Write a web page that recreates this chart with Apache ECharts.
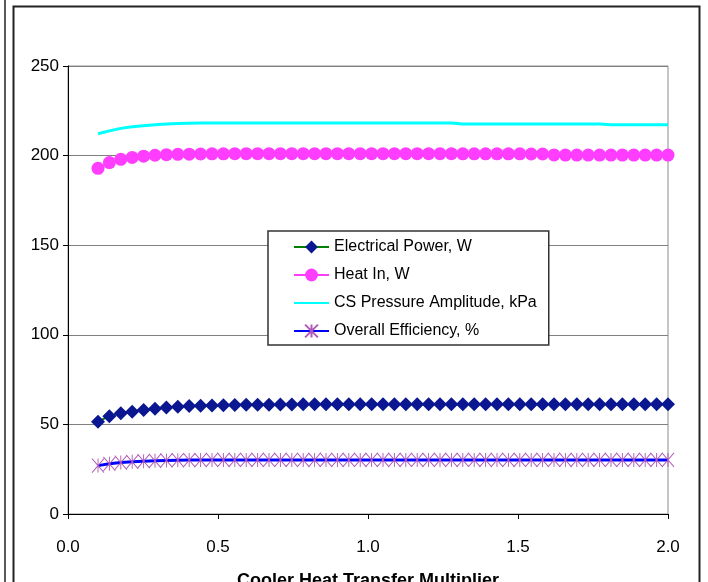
<!DOCTYPE html>
<html>
<head>
<meta charset="utf-8">
<script src="https://cdn.jsdelivr.net/npm/echarts@6/dist/echarts.min.js"></script>
<style>
  html, body { margin: 0; padding: 0; background: #fff; }
  #chart { width: 708px; height: 582px; }
</style>
</head>
<body>
<div id="chart"></div>
<script>
// cooler heat transfer multiplier (x)
const multiplier = [
  0.100, 0.138, 0.176, 0.214, 0.252, 0.290, 0.328, 0.366, 0.404, 0.442,
  0.480, 0.518, 0.556, 0.594, 0.632, 0.670, 0.708, 0.746, 0.784, 0.822,
  0.860, 0.898, 0.936, 0.974, 1.012, 1.050, 1.088, 1.126, 1.164, 1.202,
  1.240, 1.278, 1.316, 1.354, 1.392, 1.430, 1.468, 1.506, 1.544, 1.582,
  1.620, 1.658, 1.696, 1.734, 1.772, 1.810, 1.848, 1.886, 1.924, 1.962, 2.000
];

const electricalPower = [
  51.5, 54.6, 56.2, 57.1, 58.0, 58.8, 59.4, 59.8, 60.2, 60.4,
  60.6, 60.7, 60.8, 60.9, 61.0, 61.0, 61.1, 61.1, 61.2, 61.2,
  61.2, 61.3, 61.3, 61.3, 61.3, 61.3, 61.3, 61.3, 61.3, 61.3,
  61.3, 61.3, 61.3, 61.3, 61.3, 61.3, 61.3, 61.3, 61.3, 61.3,
  61.3, 61.3, 61.3, 61.3, 61.3, 61.3, 61.3, 61.3, 61.3, 61.3, 61.3
];

const heatIn = [
  192.9, 196.1, 197.9, 199.0, 199.7, 200.2, 200.5, 200.7, 200.8, 200.9,
  201.0, 201.0, 201.1, 201.1, 201.1, 201.1, 201.1, 201.1, 201.1, 201.1,
  201.1, 201.1, 201.1, 201.1, 201.1, 201.1, 201.1, 201.1, 201.1, 201.1,
  201.1, 201.1, 201.0, 201.0, 201.0, 201.0, 201.0, 201.0, 200.9, 200.9,
  200.4, 200.3, 200.3, 200.3, 200.3, 200.3, 200.3, 200.3, 200.3, 200.3, 200.3
];

const csPressure = [
  212.2, 213.8, 215.2, 216.1, 216.7, 217.2, 217.6, 217.9, 218.1, 218.2,
  218.2, 218.2, 218.2, 218.2, 218.2, 218.2, 218.2, 218.2, 218.2, 218.2,
  218.2, 218.2, 218.2, 218.2, 218.2, 218.2, 218.2, 218.2, 218.2, 218.2,
  218.2, 218.2, 217.7, 217.7, 217.7, 217.7, 217.7, 217.7, 217.7, 217.7,
  217.7, 217.7, 217.7, 217.7, 217.7, 217.2, 217.2, 217.2, 217.2, 217.2, 217.2
];

const overallEfficiency = [
  27.0, 28.0, 28.7, 29.1, 29.5, 29.7, 29.9, 30.0, 30.1, 30.1,
  30.2, 30.2, 30.2, 30.2, 30.2, 30.2, 30.2, 30.2, 30.2, 30.2,
  30.2, 30.2, 30.2, 30.2, 30.2, 30.2, 30.2, 30.2, 30.2, 30.2,
  30.2, 30.2, 30.2, 30.2, 30.2, 30.2, 30.2, 30.2, 30.2, 30.2,
  30.2, 30.2, 30.2, 30.2, 30.2, 30.2, 30.2, 30.2, 30.2, 30.2, 30.2
];

const xTicks = [0, 0.5, 1.0, 1.5, 2.0];
const yTicks = [0, 50, 100, 150, 200, 250];

const FONT = '"Liberation Sans", Arial, sans-serif';
const ASTERISK = 'path://M0,0L10,12M0,12L10,0M5,0L5,12';
// plain line sample for the legend
const LINE_ICON = 'path://M0,6.5L35,6.5L35,8.5L0,8.5Z';

const pair = (ys) => multiplier.map((x, i) => [x, ys[i]]);

const chart = echarts.init(document.getElementById('chart'));

chart.setOption({
  animation: false,
  backgroundColor: '#fff',
  textStyle: { fontFamily: FONT },
  grid: {
    left: 68, right: 40, top: 66, bottom: 68,
    outerBoundsMode: 'none',
    containLabel: false,
    show: true, borderColor: '#8c8c8c', borderWidth: 1
  },
  xAxis: {
    type: 'value',
    min: xTicks[0],
    max: xTicks[xTicks.length - 1],
    interval: 0.5,
    name: 'Cooler Heat Transfer Multiplier',
    nameLocation: 'middle',
    nameGap: 58,
    nameTextStyle: { color: '#000', fontSize: 18, fontWeight: 'bold', fontFamily: FONT },
    axisLine: { lineStyle: { color: '#000', width: 1 } },
    axisTick: { show: true, length: 5, lineStyle: { color: '#000' } },
    axisLabel: { color: '#000', fontSize: 17, margin: 25, formatter: (v) => v.toFixed(1) },
    splitLine: { show: false }
  },
  yAxis: {
    type: 'value',
    min: yTicks[0],
    max: yTicks[yTicks.length - 1],
    interval: 50,
    axisLine: { show: true, lineStyle: { color: '#000', width: 1 } },
    axisTick: { show: true, length: 5, lineStyle: { color: '#000' } },
    axisLabel: { color: '#000', fontSize: 17, margin: 9 },
    splitLine: { show: true, lineStyle: { color: '#808080', width: 1 } }
  },
  legend: {
    orient: 'vertical',
    left: 268,
    top: 231,
    padding: [8, 12, 6, 25],
    itemWidth: 35,
    itemHeight: 16,
    itemGap: 12,
    borderColor: '#333',
    borderWidth: 1.5,
    backgroundColor: '#fff',
    textStyle: { color: '#000', fontSize: 16, fontFamily: FONT },
    data: [
      'Electrical Power, W',
      'Heat In, W',
      { name: 'CS Pressure Amplitude, kPa', icon: LINE_ICON, itemStyle: { color: '#00ffff' } },
      'Overall Efficiency, %'
    ]
  },
  series: [
    {
      name: 'Electrical Power, W',
      type: 'line',
      data: pair(electricalPower),
      symbol: 'diamond',
      symbolSize: 14,
      lineStyle: { color: '#008000', width: 2 },
      itemStyle: { color: '#0a1790' }
    },
    {
      name: 'Heat In, W',
      type: 'line',
      data: pair(heatIn),
      symbol: 'circle',
      symbolSize: 13,
      lineStyle: { color: '#ff3dff', width: 2 },
      itemStyle: { color: '#ff3dff' }
    },
    {
      name: 'CS Pressure Amplitude, kPa',
      type: 'line',
      data: pair(csPressure),
      symbol: 'none',
      lineStyle: { color: '#00ffff', width: 3 },
      itemStyle: { color: '#00ffff' }
    },
    {
      name: 'Overall Efficiency, %',
      type: 'line',
      data: pair(overallEfficiency),
      symbol: ASTERISK,
      symbolSize: [12, 14],
      lineStyle: { color: '#0000ff', width: 3 },
      itemStyle: { color: 'rgba(0,0,0,0)', borderColor: '#b05ab8', borderWidth: 1 }
    }
  ],
  graphic: [
    {
      type: 'line', silent: true, z: 100,
      shape: { x1: 5, y1: 0, x2: 5, y2: 582 },
      style: { stroke: '#222', lineWidth: 1.5 }
    },
    {
      type: 'rect', silent: true, z: 100,
      shape: { x: 13.5, y: 6.5, width: 686, height: 600 },
      style: { fill: 'none', stroke: '#222', lineWidth: 2 }
    }
  ]
});
</script>
</body>
</html>
